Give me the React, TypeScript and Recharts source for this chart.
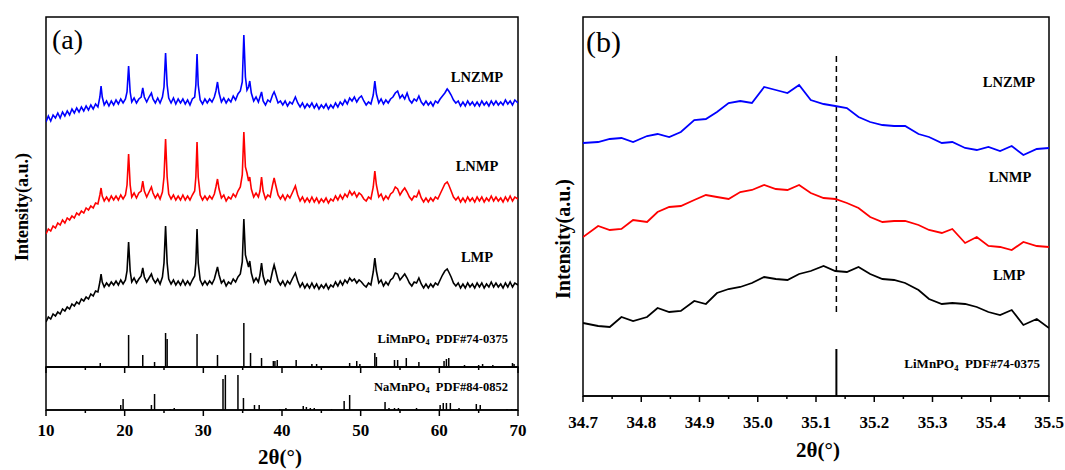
import React from 'react';
import { LineChart, Line, XAxis, YAxis, ReferenceLine, ReferenceArea } from 'recharts';

// (a) full pattern, intensity in a.u. (arbitrary, offset stacked)
const lnzmpA: [number, number][] = [
  [10,245],[10.3,251],[10.6,246],[10.9,252],[11.2,249],[11.5,254],[11.8,249],[12.1,255],[12.4,251],[12.7,256],[13,252],[13.3,258],[13.6,254],[13.9,259],[14.2,255],[14.5,260],[14.8,256],[15.1,261],[15.4,257],[15.7,262],[16,258],[16.3,263],[16.6,260],[16.85,270],[17.0,281],[17.15,270],[17.4,262],[17.7,266],[18,261],[18.3,266],[18.6,262],[18.9,267],[19.2,263],[19.5,268],[19.8,264],[20.1,268],[20.3,275],[20.5,301],[20.7,275],[20.9,265],[21.2,269],[21.5,264],[21.8,268],[22.1,270],[22.3,279],[22.5,270],[22.8,265],[23.1,270],[23.4,274],[23.6,268],[23.9,264],[24.2,269],[24.5,264],[24.8,270],[25.0,280],[25.2,314],[25.4,282],[25.6,269],[25.9,264],[26.2,269],[26.5,263],[26.8,268],[27.1,264],[27.4,268],[27.7,263],[28.0,267],[28.3,262],[28.6,268],[28.9,270],[29.05,282],[29.2,313],[29.35,282],[29.6,267],[29.9,263],[30.2,268],[30.5,264],[30.8,268],[31.1,265],[31.4,270],[31.6,276],[31.8,285],[32.0,274],[32.3,265],[32.6,269],[32.9,264],[33.2,268],[33.5,265],[33.8,271],[34.1,267],[34.4,273],[34.7,276],[34.95,285],[35.15,332],[35.35,290],[35.55,277],[35.75,280],[35.9,286],[36.1,274],[36.4,266],[36.7,270],[37.0,265],[37.2,270],[37.4,275],[37.6,266],[37.9,262],[38.2,267],[38.5,265],[38.8,272],[39.0,275],[39.2,271],[39.5,264],[39.8,266],[40.1,262],[40.4,266],[40.7,261],[41.0,265],[41.3,263],[41.7,270],[42.0,264],[42.3,260],[42.6,264],[42.9,259],[43.2,263],[43.5,260],[43.8,264],[44.1,259],[44.4,263],[44.7,258],[45.0,262],[45.3,259],[45.6,263],[45.9,258],[46.2,262],[46.5,259],[46.8,264],[47.1,260],[47.4,265],[47.7,262],[48.0,267],[48.3,263],[48.6,269],[48.9,266],[49.2,270],[49.5,265],[49.8,269],[50.1,271],[50.4,266],[50.7,262],[51.0,265],[51.3,263],[51.6,272],[51.8,286],[52.0,273],[52.3,264],[52.6,268],[52.9,263],[53.2,267],[53.5,264],[53.8,268],[54.1,270],[54.4,274],[54.7,276],[55.0,269],[55.3,272],[55.6,268],[55.9,274],[56.2,267],[56.5,264],[56.8,268],[57.1,266],[57.4,271],[57.7,265],[58.0,262],[58.3,266],[58.6,262],[58.9,265],[59.2,261],[59.5,266],[59.8,264],[60.1,268],[60.4,271],[60.7,274],[61.0,278],[61.2,276],[61.5,272],[61.8,267],[62.1,264],[62.4,266],[62.7,261],[63.0,265],[63.3,261],[63.6,266],[63.9,262],[64.2,265],[64.5,261],[64.8,265],[65.1,261],[65.4,266],[65.7,262],[66.0,265],[66.3,261],[66.6,266],[66.9,262],[67.2,266],[67.5,262],[67.8,265],[68.1,262],[68.4,267],[68.7,263],[69.0,266],[69.3,262],[69.6,267],[70,264],
];

const lnmpA: [number, number][] = [
  [10,133],[10.3,138],[10.6,136],[10.9,141],[11.2,139],[11.5,144],[11.8,142],[12.1,147],[12.4,144],[12.7,149],[13,147],[13.3,151],[13.6,149],[13.9,154],[14.2,152],[14.5,156],[14.8,154],[15.1,159],[15.4,157],[15.7,161],[16,159],[16.3,164],[16.6,163],[16.85,172],[17.0,179],[17.15,171],[17.4,166],[17.7,170],[18,166],[18.3,171],[18.6,167],[18.9,171],[19.2,167],[19.5,172],[19.8,168],[20.1,172],[20.3,182],[20.5,213],[20.7,182],[20.9,170],[21.2,174],[21.5,169],[21.8,174],[22.1,176],[22.3,186],[22.5,176],[22.8,170],[23.1,175],[23.4,180],[23.6,174],[23.9,169],[24.2,173],[24.5,168],[24.8,175],[25.0,190],[25.2,228],[25.4,190],[25.6,173],[25.9,168],[26.2,172],[26.5,167],[26.8,171],[27.1,167],[27.4,172],[27.7,167],[28.0,171],[28.3,167],[28.6,172],[28.9,176],[29.05,190],[29.2,225],[29.35,190],[29.6,172],[29.9,167],[30.2,171],[30.5,167],[30.8,171],[31.1,168],[31.4,173],[31.6,180],[31.8,188],[32.0,178],[32.3,169],[32.6,172],[32.9,166],[33.2,170],[33.5,168],[33.8,173],[34.1,170],[34.4,176],[34.7,180],[34.95,192],[35.15,235],[35.35,200],[35.55,194],[35.75,186],[35.9,190],[36.1,178],[36.4,170],[36.7,174],[37.0,170],[37.2,176],[37.4,190],[37.6,176],[37.9,168],[38.2,172],[38.5,170],[38.8,182],[39.0,189],[39.2,182],[39.5,172],[39.8,168],[40.1,172],[40.4,167],[40.7,172],[41.0,169],[41.3,174],[41.7,181],[42.0,172],[42.3,166],[42.6,170],[42.9,165],[43.2,169],[43.5,165],[43.8,170],[44.1,165],[44.4,169],[44.7,164],[45.0,168],[45.3,165],[45.6,169],[45.9,164],[46.2,168],[46.5,166],[46.8,171],[47.1,167],[47.4,172],[47.7,168],[48.0,173],[48.3,170],[48.6,176],[48.9,172],[49.2,175],[49.5,170],[49.8,174],[50.1,172],[50.4,168],[50.7,166],[51.0,170],[51.3,168],[51.6,180],[51.8,196],[52.0,182],[52.3,170],[52.6,173],[52.9,167],[53.2,171],[53.5,168],[53.8,173],[54.1,175],[54.4,180],[54.7,178],[55.0,172],[55.3,176],[55.6,179],[55.9,175],[56.2,170],[56.5,167],[56.8,171],[57.1,170],[57.4,176],[57.7,169],[58.0,165],[58.3,169],[58.6,165],[58.9,169],[59.2,166],[59.5,170],[59.8,168],[60.1,173],[60.4,178],[60.7,183],[61.0,185],[61.2,182],[61.5,176],[61.8,170],[62.1,167],[62.4,170],[62.7,165],[63.0,169],[63.3,165],[63.6,170],[63.9,166],[64.2,169],[64.5,165],[64.8,170],[65.1,166],[65.4,170],[65.7,165],[66.0,169],[66.3,166],[66.6,171],[66.9,166],[67.2,170],[67.5,166],[67.8,169],[68.1,165],[68.4,170],[68.7,166],[69.0,171],[69.3,166],[69.6,170],[70,168],
];

const lmpA: [number, number][] = [
  [10,45],[10.3,50],[10.6,48],[10.9,53],[11.2,51],[11.5,55],[11.8,53],[12.1,58],[12.4,56],[12.7,60],[13,58],[13.3,63],[13.6,61],[13.9,65],[14.2,63],[14.5,68],[14.8,66],[15.1,70],[15.4,68],[15.7,73],[16,71],[16.3,76],[16.6,75],[16.85,85],[17.0,93],[17.15,85],[17.4,80],[17.7,84],[18,81],[18.3,85],[18.6,82],[18.9,86],[19.2,82],[19.5,87],[19.8,83],[20.1,87],[20.3,96],[20.5,125],[20.7,96],[20.9,85],[21.2,89],[21.5,84],[21.8,88],[22.1,91],[22.3,99],[22.5,90],[22.8,85],[23.1,89],[23.4,93],[23.6,88],[23.9,84],[24.2,88],[24.5,83],[24.8,90],[25.0,104],[25.2,141],[25.4,104],[25.6,88],[25.9,83],[26.2,87],[26.5,82],[26.8,86],[27.1,82],[27.4,87],[27.7,82],[28.0,86],[28.3,82],[28.6,87],[28.9,91],[29.05,104],[29.2,138],[29.35,104],[29.6,87],[29.9,82],[30.2,86],[30.5,82],[30.8,86],[31.1,83],[31.4,88],[31.6,94],[31.8,100],[32.0,92],[32.3,84],[32.6,87],[32.9,81],[33.2,85],[33.5,83],[33.8,88],[34.1,85],[34.4,90],[34.7,93],[34.95,105],[35.15,148],[35.35,112],[35.55,106],[35.75,100],[35.9,106],[36.1,94],[36.4,85],[36.7,89],[37.0,85],[37.2,92],[37.4,104],[37.6,91],[37.9,83],[38.2,87],[38.5,85],[38.8,96],[39.0,102],[39.2,96],[39.5,86],[39.8,82],[40.1,86],[40.4,81],[40.7,86],[41.0,83],[41.3,88],[41.7,94],[42.0,86],[42.3,80],[42.6,84],[42.9,79],[43.2,83],[43.5,79],[43.8,84],[44.1,79],[44.4,83],[44.7,78],[45.0,82],[45.3,79],[45.6,83],[45.9,78],[46.2,82],[46.5,80],[46.8,85],[47.1,81],[47.4,86],[47.7,82],[48.0,87],[48.3,84],[48.6,89],[48.9,86],[49.2,88],[49.5,84],[49.8,87],[50.1,85],[50.4,82],[50.7,80],[51.0,84],[51.3,82],[51.6,95],[51.8,109],[52.0,96],[52.3,84],[52.6,87],[52.9,81],[53.2,85],[53.5,82],[53.8,87],[54.1,89],[54.4,94],[54.7,93],[55.0,87],[55.3,90],[55.6,93],[55.9,89],[56.2,84],[56.5,81],[56.8,85],[57.1,84],[57.4,89],[57.7,83],[58.0,79],[58.3,83],[58.6,79],[58.9,83],[59.2,80],[59.5,84],[59.8,82],[60.1,87],[60.4,92],[60.7,96],[61.0,98],[61.2,95],[61.5,90],[61.8,84],[62.1,81],[62.4,84],[62.7,79],[63.0,83],[63.3,79],[63.6,84],[63.9,80],[64.2,83],[64.5,79],[64.8,84],[65.1,80],[65.4,84],[65.7,79],[66.0,83],[66.3,80],[66.6,85],[66.9,80],[67.2,84],[67.5,80],[67.8,83],[68.1,79],[68.4,84],[68.7,80],[69.0,85],[69.3,80],[69.6,84],[70,82],
];

// reference sticks [2theta, relative height]
const limnpo4Sticks: [number, number][] = [
  [16.9,4],[20.5,32],[22.3,12],[23.8,5],[25.2,34],[25.4,28],[29.2,33],[31.8,12],[35.15,44],[36.0,14],[37.4,9],
  [38.9,6],[39.1,6],[39.4,7],[41.8,7],[43.8,3],[44.4,3],[45.2,1],[48.6,4],[49.5,6],[49.9,3],[51.8,14],[52.0,10],
  [54.3,7],[54.7,7],[55.8,9],[57.4,5],[60.6,6],[60.9,8],[61.2,9],[63.2,2],[65.0,2],[65.5,3],[66.8,2],[68.8,1],[69.3,4],[69.5,3],
];
const namnpo4Sticks: [number, number][] = [
  [19.5,5],[19.8,11],[23.4,5],[23.8,16],[25.8,1],[26.3,2],[32.5,31],[32.8,35],[34.4,35],[35.1,12],[36.5,5],[37.1,5],
  [39.7,1],[40.5,2],[42.7,4],[43.1,3],[43.6,2],[44.1,2],[46.3,1],[47.9,9],[48.6,15],[53.1,8],[53.6,2],[54.3,2],[54.8,2],
  [57.1,2],[60.1,5],[60.5,7],[60.9,7],[61.4,7],[62.5,2],[64.7,6],[65.2,5],[68.6,1],[69.2,1],[69.7,1],
];

const aTicks = [10, 15, 20, 25, 30, 35, 40, 45, 50, 55, 60, 65, 70];

// (b) zoom around the (311) peak
const bTheta = [
  34.700, 34.726, 34.746, 34.766, 34.786, 34.810, 34.828, 34.848, 34.868, 34.891,
  34.911, 34.930, 34.950, 34.970, 34.990, 35.011, 35.031, 35.051, 35.071, 35.091,
  35.113, 35.133, 35.153, 35.173, 35.193, 35.214, 35.234, 35.253, 35.276, 35.294,
  35.316, 35.334, 35.356, 35.376, 35.396, 35.416, 35.436, 35.456, 35.479, 35.500,
];
const bLnzmp = [
  253, 254, 257, 258, 254, 260, 262, 259, 264, 276,
  277, 284, 293, 295, 293, 309, 306, 303, 311, 296,
  292, 290, 288, 279, 274, 271, 270, 270, 262, 259,
  253, 254, 248, 246, 249, 245, 250, 241, 247, 248,
];
const bLnmp = [
  159, 170, 166, 167, 176, 174, 184, 189, 190, 196,
  201, 199, 197, 204, 206, 211, 207, 206, 211, 203,
  198, 197, 193, 188, 179, 174, 175, 175, 171, 166,
  163, 167, 153, 159, 150, 149, 146, 154, 150, 149,
];
const bLmp = [
  73, 70, 69, 79, 75, 79, 88, 84, 85, 95,
  92, 103, 107, 109, 113, 119, 117, 116, 122, 125,
  130, 125, 124, 129, 122, 117, 116, 113, 106, 97,
  92, 93, 92, 89, 84, 81, 86, 71, 77, 68,
];
const bTicks = [34.7, 34.75, 34.8, 34.85, 34.9, 34.95, 35.0, 35.05, 35.1, 35.15, 35.2, 35.25, 35.3, 35.35, 35.4, 35.45, 35.5];
const bPdfPeak: [number, number] = [35.135, 47];
const bMarker = { x: 35.135, from: 84, to: 343 };

const SERIF = "'Liberation Serif', 'Times New Roman', serif";
const BLUE = '#0000FF';
const RED = '#FF0000';

// merge [x,y] series into one table keyed by x
function buildTable(series: Record<string, [number, number][]>) {
  const rows = new Map<number, any>();
  Object.entries(series).forEach(([key, pts]) => {
    pts.forEach(([x, y]) => {
      const row = rows.get(x) || { x };
      row[key] = y;
      rows.set(x, row);
    });
  });
  return Array.from(rows.values()).sort((a, b) => a.x - b.x);
}

const tableA = buildTable({ lnzmp: lnzmpA, lnmp: lnmpA, lmp: lmpA });
const tableB = bTheta.map((x, i) => ({ x, lnzmp: bLnzmp[i], lnmp: bLnmp[i], lmp: bLmp[i] }));

function makeTick(isMajor: (v: number) => boolean, fmt: ((v: number) => string) | null, labelDy: number) {
  return (props: any) => {
    const { x, y, payload } = props;
    const major = isMajor(payload.value);
    return (
      <g>
        <line x1={x} x2={x} y1={y} y2={y + (major ? 6 : 3)} stroke="#000" strokeWidth={1.5} />
        {fmt && major && (
          <text x={x} y={y + labelDy} textAnchor="middle" dominantBaseline="central"
            fontFamily={SERIF} fontWeight="bold" fontSize={17} fill="#000">
            {fmt(payload.value)}
          </text>
        )}
      </g>
    );
  };
}

const majorA = (v: number) => v % 10 === 0;
const majorB = (v: number) => Math.round(v * 100) % 10 === 0;

function Txt({ x, y, size, bold = true, anchor = 'middle', rotate = false, children }: any) {
  const tx = anchor === 'end' ? '-100%' : anchor === 'start' ? '0' : '-50%';
  return (
    <div
      style={{
        position: 'absolute', left: x, top: y, whiteSpace: 'nowrap', lineHeight: 1,
        fontFamily: SERIF, fontSize: size, fontWeight: bold ? 'bold' : 'normal', color: '#000',
        transform: `translate(${tx}, -50%)${rotate ? ' rotate(-90deg)' : ''}`,
      }}
    >
      {children}
    </div>
  );
}

const Sub4 = () => <span style={{ fontSize: '0.65em', verticalAlign: '-0.35em' }}>4</span>;

function PanelA() {
  return (
    <>
      <div style={{ position: 'absolute', left: 0, top: 0 }}>
        <LineChart width={530} height={400} data={tableA} margin={{ top: 17, right: 12, bottom: 0, left: 46 }}>
          <XAxis dataKey="x" type="number" domain={[10, 70]} allowDataOverflow ticks={aTicks} interval={0}
            height={33} tickSize={0} tickMargin={0} tickLine={false}
            axisLine={{ stroke: '#000', strokeWidth: 1.5 }} tick={makeTick(majorA, null, 0)} />
          <YAxis hide type="number" domain={[0, 350]} allowDataOverflow />
          <ReferenceArea x1={10} x2={70} y1={0} y2={350} fill="none" stroke="#000" strokeWidth={1.5} />
          {limnpo4Sticks.map(([x, h]) => (
            <ReferenceLine key={'l' + x} segment={[{ x, y: 0 }, { x, y: h }]} stroke="#000" strokeWidth={1.5} />
          ))}
          <Line dataKey="lnzmp" stroke={BLUE} strokeWidth={1.6} dot={false} connectNulls isAnimationActive={false} />
          <Line dataKey="lnmp" stroke={RED} strokeWidth={1.6} dot={false} connectNulls isAnimationActive={false} />
          <Line dataKey="lmp" stroke="#000" strokeWidth={1.6} dot={false} connectNulls isAnimationActive={false} />
        </LineChart>
      </div>
      <div style={{ position: 'absolute', left: 0, top: 360 }}>
        <LineChart width={530} height={110} margin={{ top: 7, right: 12, bottom: 0, left: 46 }}>
          <XAxis dataKey="x" type="number" domain={[10, 70]} allowDataOverflow ticks={aTicks} interval={0}
            height={60} tickSize={0} tickMargin={0} tickLine={false}
            axisLine={{ stroke: '#000', strokeWidth: 1.5 }} tick={makeTick(majorA, (v) => String(v), 20)} />
          <YAxis hide type="number" domain={[0, 43]} allowDataOverflow />
          <ReferenceArea x1={10} x2={70} y1={0} y2={43} fill="none" stroke="#000" strokeWidth={1.5} />
          {namnpo4Sticks.map(([x, h]) => (
            <ReferenceLine key={'n' + x} segment={[{ x, y: 0 }, { x, y: h }]} stroke="#000" strokeWidth={1.5} />
          ))}
        </LineChart>
      </div>
      <Txt x={52} y={40} size={28} bold={false} anchor="start">(a)</Txt>
      <Txt x={477} y={77} size={14.5}>LNZMP</Txt>
      <Txt x={477} y={166} size={14.5}>LNMP</Txt>
      <Txt x={477} y={257} size={14.5}>LMP</Txt>
      <Txt x={508} y={340} size={12.5} anchor="end">LiMnPO<Sub4 />&nbsp;&nbsp;PDF#74-0375</Txt>
      <Txt x={508} y={388} size={12.5} anchor="end">NaMnPO<Sub4 />&nbsp;&nbsp;PDF#84-0852</Txt>
      <Txt x={22} y={207} size={18} rotate>Intensity(a.u.)</Txt>
      <Txt x={280} y={457} size={21} bold>2θ(°)</Txt>
    </>
  );
}

function PanelB() {
  return (
    <>
      <div style={{ position: 'absolute', left: 540, top: 0 }}>
        <LineChart width={525} height={470} data={tableB} margin={{ top: 17, right: 16, bottom: 0, left: 43 }}>
          <XAxis dataKey="x" type="number" domain={[34.7, 35.5]} allowDataOverflow ticks={bTicks} interval={0}
            height={74} tickSize={0} tickMargin={0} tickLine={false}
            axisLine={{ stroke: '#000', strokeWidth: 1.5 }} tick={makeTick(majorB, (v) => v.toFixed(1), 26)} />
          <YAxis hide type="number" domain={[0, 379]} allowDataOverflow />
          <ReferenceArea x1={34.7} x2={35.5} y1={0} y2={379} fill="none" stroke="#000" strokeWidth={1.5} />
          <ReferenceLine segment={[{ x: bMarker.x, y: bMarker.from }, { x: bMarker.x, y: bMarker.to }]}
            stroke="#000" strokeWidth={1.5} strokeDasharray="6 4" />
          <ReferenceLine segment={[{ x: bPdfPeak[0], y: 0 }, { x: bPdfPeak[0], y: bPdfPeak[1] }]} stroke="#000" strokeWidth={2} />
          <Line dataKey="lnzmp" stroke={BLUE} strokeWidth={1.8} dot={false} isAnimationActive={false} />
          <Line dataKey="lnmp" stroke={RED} strokeWidth={1.8} dot={false} isAnimationActive={false} />
          <Line dataKey="lmp" stroke="#000" strokeWidth={1.8} dot={false} isAnimationActive={false} />
        </LineChart>
      </div>
      <Txt x={586} y={42} size={30} bold={false} anchor="start">(b)</Txt>
      <Txt x={1009} y={82} size={14.5}>LNZMP</Txt>
      <Txt x={1010} y={177} size={14.5}>LNMP</Txt>
      <Txt x={1009} y={275} size={14.5}>LMP</Txt>
      <Txt x={1040} y={365} size={13} anchor="end">LiMnPO<Sub4 />&nbsp;&nbsp;PDF#74-0375</Txt>
      <Txt x={563} y={239} size={20} rotate>Intensity(a.u.)</Txt>
      <Txt x={818} y={450} size={21} bold>2θ(°)</Txt>
    </>
  );
}

export default function App() {
  return (
    <div style={{ position: 'absolute', left: 0, top: 0, width: 1065, height: 470, background: '#fff', overflow: 'hidden' }}>
      <PanelA />
      <PanelB />
    </div>
  );
}
